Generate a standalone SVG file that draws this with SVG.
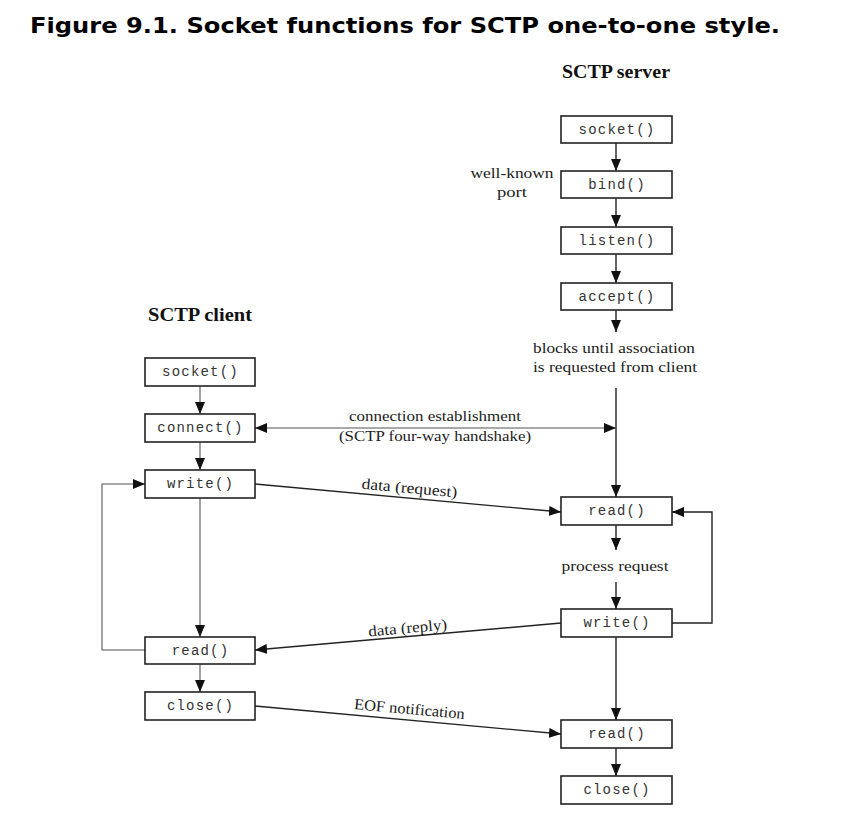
<svg xmlns="http://www.w3.org/2000/svg" width="842" height="825" viewBox="0 0 842 825">
<defs>
<marker id="ah" viewBox="0 0 12 10" refX="12" refY="5" markerWidth="12" markerHeight="10" markerUnits="userSpaceOnUse" orient="auto-start-reverse">
<path d="M0,0 L12,5 L0,10 Z" fill="#111"/>
</marker>
<style>
.box{fill:#fff;stroke:#222;stroke-width:1.6}
.fn{font-family:"Liberation Mono","Courier New",monospace;font-size:14px;letter-spacing:1.2px;fill:#333;text-anchor:middle}
.lbl{font-family:"Liberation Serif","Times New Roman",serif;font-size:15.5px;fill:#222;text-anchor:middle}
.hd{font-family:"Liberation Serif","Times New Roman",serif;font-size:18px;font-weight:bold;fill:#111;text-anchor:middle}
.ln{fill:none;stroke:#222;stroke-width:1.4}
.thin{fill:none;stroke:#555;stroke-width:1.1}
</style>
</defs>
<rect width="842" height="825" fill="#fff"/>
<text x="30" y="33" font-family="'DejaVu Sans',Verdana,sans-serif" font-weight="bold" font-size="22" fill="#000" textLength="750" lengthAdjust="spacingAndGlyphs">Figure 9.1. Socket functions for SCTP one-to-one style.</text>

<text class="hd" x="616" y="78" textLength="108" lengthAdjust="spacingAndGlyphs">SCTP server</text>
<text class="hd" x="200" y="321" textLength="104" lengthAdjust="spacingAndGlyphs">SCTP client</text>

<g id="connectors">
<line class="ln" x1="616" y1="143" x2="616" y2="171" marker-end="url(#ah)"/>
<line class="ln" x1="616" y1="198" x2="616" y2="227" marker-end="url(#ah)"/>
<line class="ln" x1="616" y1="254" x2="616" y2="283" marker-end="url(#ah)"/>
<line class="ln" x1="616" y1="310" x2="616" y2="332" marker-end="url(#ah)"/>
<line class="ln" x1="616" y1="388" x2="616" y2="497" marker-end="url(#ah)"/>
<line class="ln" x1="616" y1="525" x2="616" y2="550" marker-end="url(#ah)"/>
<line class="ln" x1="616" y1="582" x2="616" y2="609" marker-end="url(#ah)"/>
<line class="ln" x1="616" y1="637" x2="616" y2="720" marker-end="url(#ah)"/>
<line class="ln" x1="616" y1="748" x2="616" y2="776" marker-end="url(#ah)"/>
<polyline class="ln" points="672,623 712,623 712,512 672,512" marker-end="url(#ah)"/>
<line class="thin" x1="200" y1="386" x2="200" y2="414" marker-end="url(#ah)"/>
<line class="thin" x1="200" y1="442" x2="200" y2="470" marker-end="url(#ah)"/>
<line class="thin" x1="200" y1="498" x2="200" y2="637" marker-end="url(#ah)"/>
<line class="thin" x1="200" y1="664" x2="200" y2="692" marker-end="url(#ah)"/>
<polyline class="thin" points="145,650 102,650 102,484 145,484" marker-end="url(#ah)"/>
<line class="thin" x1="255" y1="428" x2="616" y2="428" marker-start="url(#ah)" marker-end="url(#ah)"/>
<line class="ln" x1="255" y1="484" x2="561" y2="512" marker-end="url(#ah)"/>
<line class="ln" x1="561" y1="623" x2="255" y2="650" marker-end="url(#ah)"/>
<line class="ln" x1="255" y1="706" x2="561" y2="734" marker-end="url(#ah)"/>
</g>

<g id="labels">
<text class="lbl" x="512" y="178" textLength="83" lengthAdjust="spacingAndGlyphs">well-known</text>
<text class="lbl" x="512" y="197" textLength="30" lengthAdjust="spacingAndGlyphs">port</text>
<text class="lbl" x="614" y="353" textLength="162" lengthAdjust="spacingAndGlyphs">blocks until association</text>
<text class="lbl" x="615" y="372" textLength="164" lengthAdjust="spacingAndGlyphs">is requested from client</text>
<text class="lbl" x="435" y="421" textLength="172" lengthAdjust="spacingAndGlyphs">connection establishment</text>
<text class="lbl" x="435" y="441" textLength="192" lengthAdjust="spacingAndGlyphs">(SCTP four-way handshake)</text>
<text class="lbl" x="409" y="493" transform="rotate(5.2 409 493)" textLength="96" lengthAdjust="spacingAndGlyphs">data (request)</text>
<text class="lbl" x="615" y="571" textLength="107" lengthAdjust="spacingAndGlyphs">process request</text>
<text class="lbl" x="408" y="633" transform="rotate(-5 408 633)" textLength="79" lengthAdjust="spacingAndGlyphs">data (reply)</text>
<text class="lbl" x="409" y="714" transform="rotate(5.2 409 714)" textLength="111" lengthAdjust="spacingAndGlyphs">EOF notification</text>
</g>

<g id="s-socket"><rect class="box" x="561" y="116" width="111" height="27"/><text class="fn" x="617" y="134">socket()</text></g>
<g id="s-bind"><rect class="box" x="561" y="171" width="111" height="27"/><text class="fn" x="617" y="189">bind()</text></g>
<g id="s-listen"><rect class="box" x="561" y="227" width="111" height="27"/><text class="fn" x="617" y="245">listen()</text></g>
<g id="s-accept"><rect class="box" x="561" y="283" width="111" height="27"/><text class="fn" x="617" y="301">accept()</text></g>
<g id="s-read1"><rect class="box" x="561" y="497" width="111" height="28"/><text class="fn" x="617" y="515">read()</text></g>
<g id="s-write"><rect class="box" x="561" y="609" width="111" height="28"/><text class="fn" x="617" y="627">write()</text></g>
<g id="s-read2"><rect class="box" x="561" y="720" width="111" height="28"/><text class="fn" x="617" y="738">read()</text></g>
<g id="s-close"><rect class="box" x="561" y="776" width="111" height="28"/><text class="fn" x="617" y="794">close()</text></g>

<g id="c-socket"><rect class="box" x="145" y="358" width="110" height="28"/><text class="fn" x="200.5" y="376">socket()</text></g>
<g id="c-connect"><rect class="box" x="145" y="414" width="110" height="28"/><text class="fn" x="200.5" y="432">connect()</text></g>
<g id="c-write"><rect class="box" x="145" y="470" width="110" height="28"/><text class="fn" x="200.5" y="488">write()</text></g>
<g id="c-read"><rect class="box" x="145" y="637" width="110" height="27"/><text class="fn" x="200.5" y="655">read()</text></g>
<g id="c-close"><rect class="box" x="145" y="692" width="110" height="28"/><text class="fn" x="200.5" y="710">close()</text></g>
</svg>
